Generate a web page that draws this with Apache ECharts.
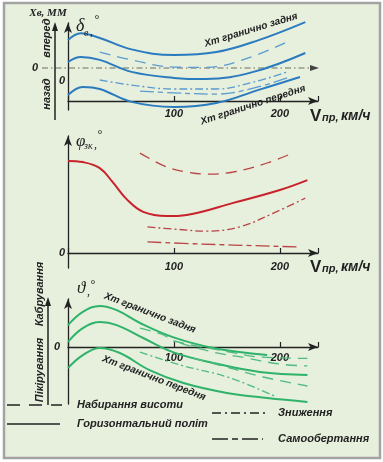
<!DOCTYPE html>
<html><head><meta charset="utf-8">
<script src="https://cdn.jsdelivr.net/npm/echarts@6/dist/echarts.min.js"></script>
<style>html,body{margin:0;padding:0;background:#fff;}#c{width:383px;height:462px;}</style>
</head><body><div id="c"></div>
<script>
// ---- data (speed Vпр in km/h, angles in schematic units) ----
const V_TICKS = [100, 200];
// Panel 1: elevator deflection δв
const deltaRear    = [[0,20.3],[12,22.6],[30,21.0],[60,17.2],[100,15.3],[140,16.3],[180,20.3],[224,26.3]];
const deltaMid     = [[0,13.0],[12,14.7],[30,13.7],[60,9.7],[100,7.7],[130,7.3],[175,9.7],[224,16.0]];
const deltaFront   = [[0,2.0],[14,4.7],[30,4.0],[60,-0.3],[100,-2.0],[140,-0.7],[180,3.7],[219,8.0]];
const deltaClimb   = [[30,16.3],[60,13.7],[100,11.3],[130,11.2],[165,13.7],[207,19.7]];
const deltaDescent = [[30,7.0],[60,5.3],[100,4.0],[140,4.0],[175,6.3],[207,9.7]];
const deltaAutorot = [[68,3.3],[100,2.7],[140,2.3],[175,4.3],[207,7.7]];
// Panel 2: φзк
const phiLevel   = [[0,30.7],[14,30.3],[30,28.3],[42,23.7],[56,17.7],[71,13.7],[93,12.3],[112,12.7],[156,16.7],[200,21.0],[226,24.3]];
const phiClimb   = [[68,33.3],[93,28.7],[112,27.0],[131,26.3],[156,27.0],[188,30.0],[212,33.3]];
const phiDescent = [[75,8.7],[99,8.0],[131,7.3],[162,8.7],[194,13.3],[224,18.3]];
const phiAutorot = [[75,3.7],[125,3.0],[219,2.0]];
// Panel 3: pitch ϑ
const thetaRear    = [[0,7.3],[14,11.7],[30,13.7],[46,12.3],[68,8.0],[99,3.3],[137,-0.3],[188,-2.7]];
const thetaMid     = [[0,1.7],[14,6.3],[30,8.3],[46,7.3],[71,3.0],[99,-1.7],[137,-5.3],[181,-8.3],[226,-9.3]];
const thetaFront   = [[0,-7.0],[14,-2.7],[30,-0.3],[49,-2.0],[77,-7.7],[109,-12.0],[150,-15.3],[188,-17.0],[226,-18.3]];
const thetaClimbA  = [[68,6.3],[90,4.0],[100,2.0],[150,-1.5],[180,-3.3],[226,-3.8]];
const thetaAutorot = [[106,1.3],[137,-1.7],[169,-3.7],[200,-5.7],[226,-6.3]];
const thetaClimbB  = [[118,-3.7],[153,-7.0],[184,-10.0],[226,-13.0]];
const thetaDescent = [[68,-1.7],[106,-6.0],[153,-10.3],[197,-16.7]];

// ---- styles ----
const INK = '#222';
const DASH_CLIMB = [11,7];
const DASH_DESC = [8,3,2,3];
const DASH_AUTO = [14,4,5,4];
const FONT_LBL = '"Liberation Sans", Arial, sans-serif';
const V_MAX = 236;

// hidden scale axis of each plotting grid
function xScale(gi){
  return {type:'value', gridIndex:gi, min:0, max:V_MAX, show:false, splitLine:{show:false}};
}
// visible speed axis drawn in a thin grid whose bottom edge is the zero line
function xVisible(gi, margin){
  return {type:'value', gridIndex:gi, min:0, max:V_MAX, interval:100,
    axisLine:{show:true, onZero:false, symbol:['none','arrow'], symbolSize:[6,10], lineStyle:{color:INK, width:1.3}},
    axisTick:{show:true, inside:true, length:5, lineStyle:{color:INK, width:1.2}},
    axisLabel:{show:true, margin:margin, color:INK, fontSize:11, fontWeight:'bold', fontStyle:'italic', fontFamily:FONT_LBL,
      formatter:v => V_TICKS.indexOf(v) >= 0 ? String(v) : ''},
    splitLine:{show:false}};
}
function yAx(gi, min, max){
  return {type:'value', gridIndex:gi, min:min, max:max,
    axisLine:{show:true, onZero:false, symbol:['none','arrow'], symbolSize:[6,10], lineStyle:{color:INK, width:1.3}},
    axisTick:{show:false}, axisLabel:{show:false}, splitLine:{show:false}};
}
function yHidden(gi){
  return {type:'value', gridIndex:gi, min:0, max:1, show:false, splitLine:{show:false}};
}
function ser(gi, data, color, width, dash){
  return {type:'line', xAxisIndex:gi, yAxisIndex:gi, data:data, symbol:'none', smooth:0.4,
    clip:false, silent:true, z:3,
    lineStyle:{color:color, width:width, type: dash ? dash : 'solid'}};
}
const BLUE='#2b7bbf', BLUE_D='#5b9bd0', RED='#c8232c', RED_D='#b94545', GREEN='#2fb36a', GREEN_D='#4fbb80';

function txt(x,y,text,font,opt){
  opt = opt || {};
  return {type:'text', x:x, y:y, rotation:opt.rot||0, z:10,
    style:{text:text, font:font, fill:opt.fill||INK,
      textAlign:opt.align||'center', textVerticalAlign:'middle', align:opt.align||'center', verticalAlign:'middle'}};
}
const F11 = 'italic bold 11px ' + FONT_LBL;
const F10 = 'italic bold 10px ' + FONT_LBL;
const SERIF = '"Liberation Serif", "DejaVu Serif", serif';
const deg = Math.PI/180;

function vLabel(x,y){
  return [
    txt(x, y, 'V', 'bold 17px ' + FONT_LBL, {align:'left'}),
    txt(x+12, y+2, 'пр,', 'italic bold 11px ' + FONT_LBL, {align:'left'}),
    txt(x+31, y, 'км/ч', 'italic bold 14px ' + FONT_LBL, {align:'left'})
  ];
}
function legLine(x1,y,x2,dash,w){
  return {type:'line', z:10, shape:{x1:x1,y1:y,x2:x2,y2:y}, style:{stroke:INK, lineWidth:w||1.3, lineDash:dash||null}};
}

const graphic = [
  {type:'rect', z:0, shape:{x:4,y:3,width:376,height:455}, style:{fill:'#e7efdd', stroke:'#a3a3a3', lineWidth:2.5}},
  // Xв axis (forward/back)
  {type:'line', z:5, shape:{x1:55,y1:120,x2:55,y2:29}, style:{stroke:INK, lineWidth:1.5}},
  {type:'polygon', z:5, shape:{points:[[55,22],[52,31],[58,31]]}, style:{fill:INK}},
  // zero line of Xв
  {type:'line', z:2, shape:{x1:42,y1:68,x2:311,y2:68}, style:{stroke:'#6e6e5e', lineWidth:1.2, lineDash:[6,3,1.5,3]}},
  {type:'polygon', z:5, shape:{points:[[319,68],[310,65],[310,71]]}, style:{fill:'#444'}},
  // кабрування / пікірування axis
  {type:'line', z:5, shape:{x1:48,y1:405,x2:48,y2:305}, style:{stroke:INK, lineWidth:1.5}},
  {type:'polygon', z:5, shape:{points:[[48,297],[45,306],[51,306]]}, style:{fill:INK}},
  // texts panel 1
  txt(48, 13, 'Хв, ММ', 'italic bold 11px ' + SERIF),
  txt(76, 26, 'δ', 'italic 18px ' + SERIF, {align:'left'}),
  txt(84, 33, 'в', 'italic 10px ' + SERIF, {align:'left'}),
  txt(90, 32, ',', 'italic 12px ' + SERIF, {align:'left'}),
  txt(97, 20, '°', '12px ' + SERIF),
  txt(47, 38, 'вперед', F11, {rot:90*deg}),
  txt(47, 94, 'назад', F11, {rot:90*deg}),
  txt(35, 68, '0', F11),
  txt(62, 81, '0', F11),
  txt(251, 30, 'Хт гранично задня', F10, {rot:17*deg}),
  txt(253, 105, 'Хт гранично передня', F10, {rot:18*deg}),
  ...vLabel(310, 116),
  // texts panel 2
  txt(76, 142, 'φ', 'italic 17px ' + SERIF, {align:'left'}),
  txt(84, 146, 'зк', 'italic 10px ' + SERIF, {align:'left'}),
  txt(94, 145, ',', 'italic 12px ' + SERIF, {align:'left'}),
  txt(100, 135, '°', '12px ' + SERIF),
  txt(62, 253, '0', F11),
  ...vLabel(310, 267),
  // texts panel 3
  txt(77, 289, 'ϑ', 'italic 17px ' + SERIF, {align:'left'}),
  txt(87, 292, ',', 'italic 12px ' + SERIF, {align:'left'}),
  txt(93, 285, '°', '12px ' + SERIF),
  txt(57, 347, '0', F11),
  txt(40, 294, 'Кабрування', F11, {rot:90*deg}),
  txt(40, 370, 'Пікірування', F11, {rot:90*deg}),
  txt(150, 313, 'Хт гранично задня', F10, {rot:-21*deg}),
  txt(154, 378, 'Хт гранично передня', F10, {rot:-21*deg}),
  // legend
  legLine(7, 405, 62, [13,9]),
  txt(77, 405, 'Набирання висоти', F11, {align:'left'}),
  legLine(7, 424, 60, null, 1.6),
  txt(77, 424, 'Горизонтальний політ', F11, {align:'left'}),
  legLine(212, 413, 265, [9,4,2,4]),
  txt(278, 413, 'Зниження', F11, {align:'left'}),
  legLine(212, 439, 263, [16,4,6,4]),
  txt(278, 439, 'Самообертання', F11, {align:'left'})
];

const option = {
  animation:false,
  backgroundColor:'#ffffff',
  grid:[
    {left:68, top:23, width:250, height:87},
    {left:68, top:136, width:250, height:132},
    {left:68, top:299, width:250, height:105},
    // thin grids whose bottom edge is the zero line of each panel (speed axis)
    {left:68, top:81, width:250, height:20},
    {left:68, top:233, width:250, height:20},
    {left:68, top:327, width:250, height:20}
  ],
  xAxis:[xScale(0), xScale(1), xScale(2), xVisible(3,7), xVisible(4,8), xVisible(5,5)],
  yAxis:[yAx(0,-3,26), yAx(1,-5,39), yAx(2,-19,16), yHidden(3), yHidden(4), yHidden(5)],
  graphic: graphic,
  series:[
    ser(0, deltaRear, BLUE, 2),
    ser(0, deltaMid, BLUE, 2),
    ser(0, deltaFront, BLUE, 2),
    ser(0, deltaClimb, BLUE_D, 1.3, DASH_CLIMB),
    ser(0, deltaDescent, BLUE_D, 1.3, DASH_DESC),
    ser(0, deltaAutorot, BLUE_D, 1.3, DASH_AUTO),
    ser(1, phiLevel, RED, 2),
    ser(1, phiClimb, RED_D, 1.3, DASH_CLIMB),
    ser(1, phiDescent, RED_D, 1.3, DASH_DESC),
    ser(1, phiAutorot, RED_D, 1.3, DASH_AUTO),
    ser(2, thetaRear, GREEN, 2),
    ser(2, thetaMid, GREEN, 2),
    ser(2, thetaFront, GREEN, 2),
    ser(2, thetaClimbA, GREEN_D, 1.3, DASH_CLIMB),
    ser(2, thetaAutorot, GREEN_D, 1.3, DASH_CLIMB),
    ser(2, thetaClimbB, GREEN_D, 1.3, DASH_CLIMB),
    ser(2, thetaDescent, GREEN_D, 1.3, DASH_DESC)
  ]
};
const chart = echarts.init(document.getElementById('c'), null, {renderer:'canvas'});
chart.setOption(option);
</script>
</body></html>
